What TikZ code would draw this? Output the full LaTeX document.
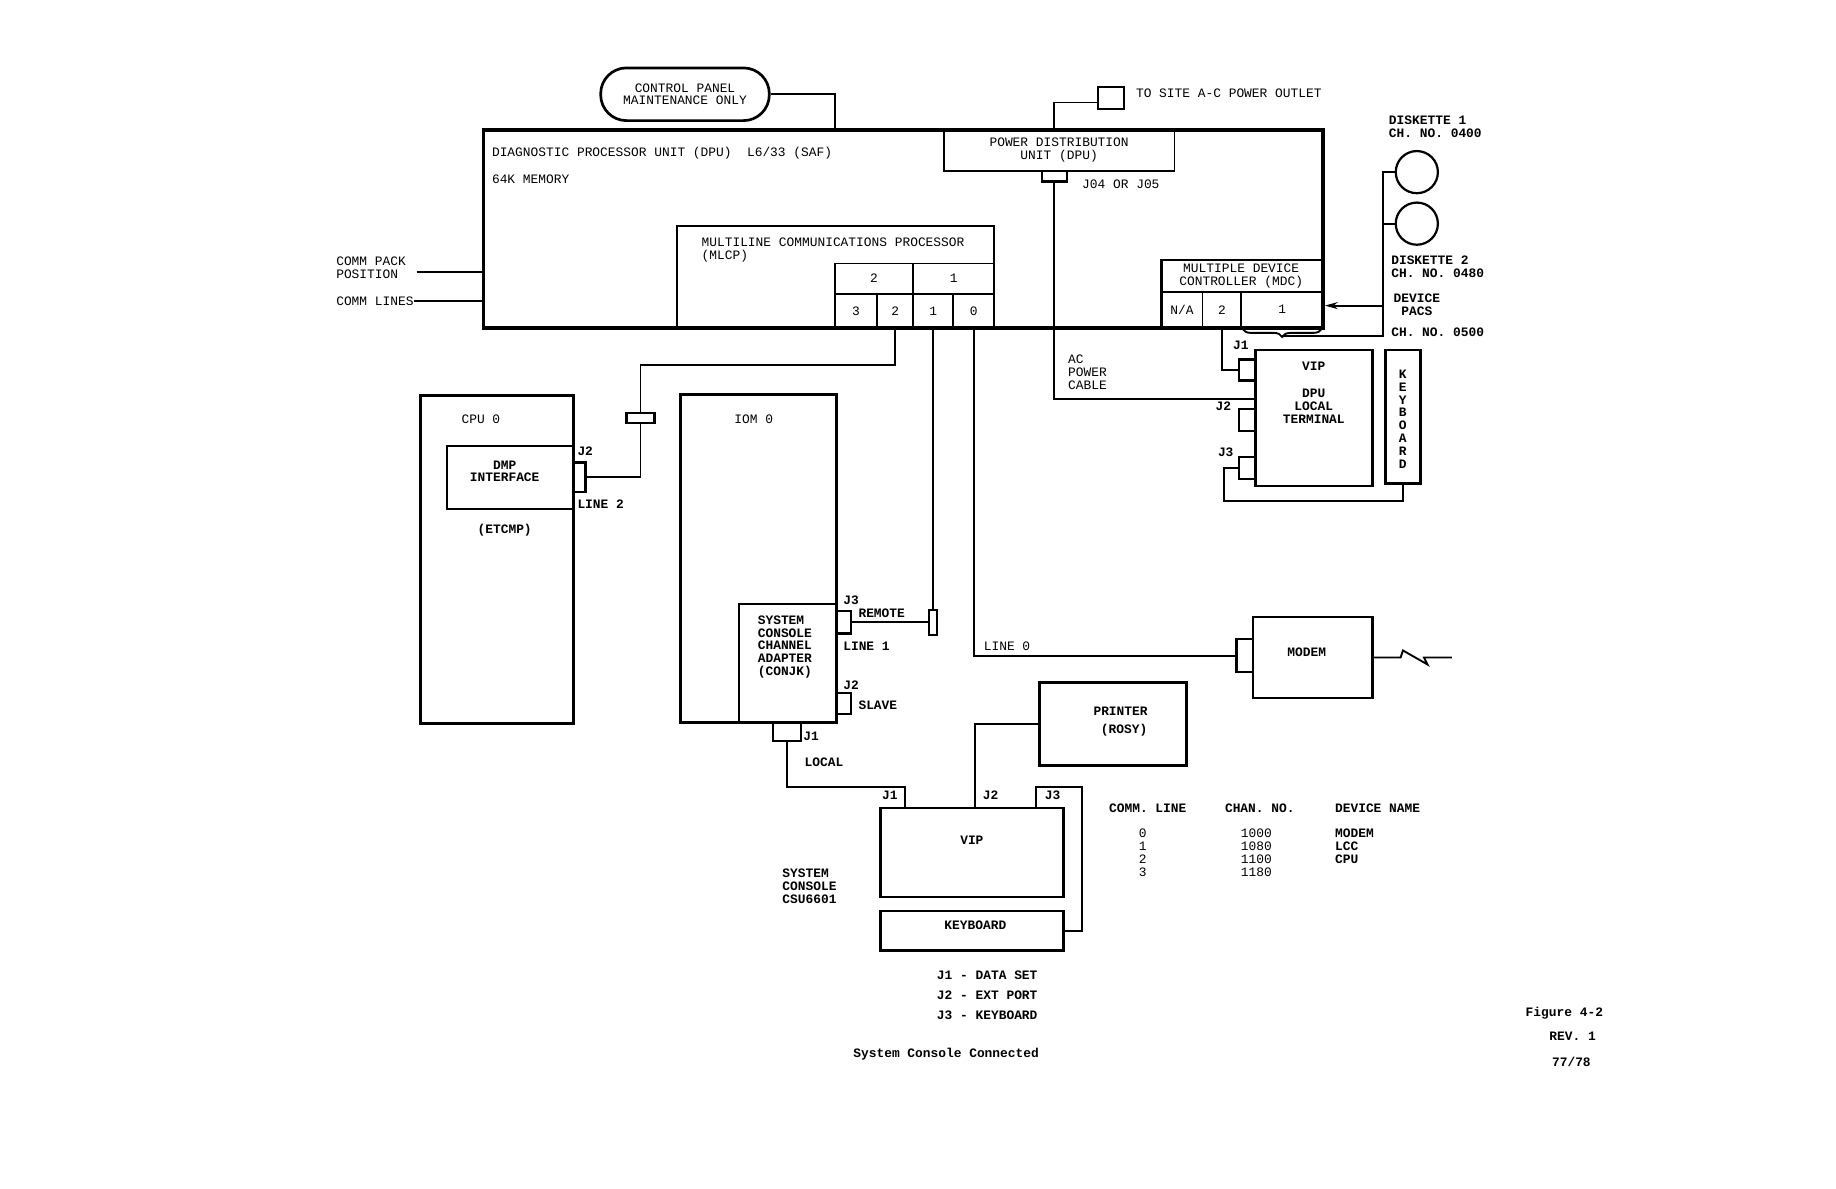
\documentclass[tikz,border=0pt]{standalone}
\usepackage{fontspec}
\setmainfont{Liberation Mono}
\usetikzlibrary{positioning, arrows.meta, decorations.pathreplacing}
\newcommand{\typed}{\fontsize{11}{11}\selectfont}
\tikzset{
  wh/.style 2 args={minimum width=#1pt, minimum height=#2pt},
  frame/.style={draw, line width=3pt, inner sep=0pt},
  unitbox/.style={draw, line width=2.3pt, inner sep=0pt},
  cellbox/.style={draw, line width=1.6pt, inner sep=0pt},
  jack/.style={draw, line width=1.9pt, inner sep=0pt},
  cable/.style={line width=1.6pt},
  tag/.style={font=\typed, inner sep=0pt, anchor=west, align=left},
  boldtag/.style={tag, font=\typed\bfseries},
  ctag/.style={font=\typed, inner sep=0pt, align=center},
  boldctag/.style={ctag, font=\typed\bfseries}
}

\begin{document}
\begin{tikzpicture}[x=1pt, y=-1pt]
  \fill[white] (0,0) rectangle (1568,1015);
  \useasboundingbox (0,0) rectangle (1568,1015);

  % DPU cabinet
  \node[frame, wh={717}{169}] (dpu) at (771.5,195.5) {};
  \node[tag] (dputitle) at (420,131) {DIAGNOSTIC PROCESSOR UNIT (DPU)\ \ L6/33 (SAF)};
  \node[tag] (memory) at (420,153) {64K MEMORY};
  \node[unitbox, wh={144}{45}, rounded corners=22pt, ctag] (panel) at (585,80.5) {CONTROL PANEL\\MAINTENANCE ONLY};
  \coordinate (panelin) at (713,111);
  \draw[cable] (panel.east) -| (panelin);

  \node[cellbox, wh={197}{35}, ctag] (pdu) at (904.5,128.5) {POWER DISTRIBUTION\\UNIT (DPU)};
  \node[jack, wh={22}{19}] (outlet) at (949,83.5) {};
  \node[tag] (outlettxt) at (970,80) {TO SITE A-C POWER OUTLET};
  \node[jack, wh={21}{9}] (pdujack) at (900.5,150.5) {};
  \node[tag] (jacksel) at (924,157) {J04 OR J05};
  \draw[cable] ([yshift=-4pt]outlet.west) -| (pdujack.center |- pdu.north);

  \node[tag] (commpack) at (287,228.5) {COMM PACK\\POSITION};
  \coordinate (packin) at (356,232);
  \draw[cable] (packin) -- (packin -| dpu.west);
  \node[tag] (commlines) at (287,257) {COMM LINES};
  \draw[cable] (commlines.east) -- (commlines.east -| dpu.west);

  % MLCP
  \node[unitbox, wh={271}{87}, line width=2pt] (mlcp) at (713.5,236.5) {};
  \node[tag] (mlcptxt) at (599,213.5) {MULTILINE COMMUNICATIONS PROCESSOR\\(MLCP)};
  \node[cellbox, wh={67}{26}, ctag] (pu2) at (746.5,238) {2};
  \node[cellbox, wh={69}{26}, ctag] (pu1) at (814.5,238) {1};
  \node[cellbox, wh={36}{29}, ctag] (pl3) at (731,265.5) {3};
  \node[cellbox, wh={31}{29}, ctag] (pl2) at (764.5,265.5) {2};
  \node[cellbox, wh={34}{29}, ctag] (pl1) at (797,265.5) {1};
  \node[cellbox, wh={35}{29}, ctag] (pl0) at (831.5,265.5) {0};

  % MDC and diskettes
  \node[unitbox, wh={138}{58}, line width=2pt] (mdc) at (1061,251) {};
  \node[ctag] (mdctxt) at (1060,236) {MULTIPLE DEVICE\\CONTROLLER (MDC)};
  \node[cellbox, wh={35}{31}, ctag] (mna) at (1009.5,264.5) {N/A};
  \node[cellbox, wh={33}{31}, ctag] (m2) at (1043.5,264.5) {2};
  \node[cellbox, wh={70}{31}, ctag] (m1) at (1095,264.5) {1};
  \draw[cable, decorate, decoration={brace, amplitude=7pt}] ([xshift=-2pt]m1.south east) -- ([xshift=2pt]m1.south west);
  \coordinate (padtip) at (1095,287);

  \node[draw, circle, line width=1.9pt, minimum size=36pt, inner sep=0pt] (disk1) at (1210,147) {};
  \node[draw, circle, line width=1.9pt, minimum size=36pt, inner sep=0pt] (disk2) at (1210,191) {};
  \coordinate (bustop) at (1181,147);
  \draw[cable] (disk1.west) -- (bustop) |- (padtip);
  \draw[cable] (disk2.west) -- (disk2.west -| bustop);
  \coordinate (pacs) at (1181,261);
  \draw[cable, -{Stealth[length=11pt, width=6pt]}] (pacs) -- (pacs -| dpu.east);
  \node[boldtag] (disk1txt) at (1186,108) {DISKETTE 1\\CH. NO. 0400};
  \node[boldtag] (disk2txt) at (1188,227.5) {DISKETTE 2\\CH. NO. 0480};
  \node[boldctag] (pacstxt) at (1210,260) {DEVICE\\PACS};
  \node[boldtag] (ch500) at (1188,284) {CH. NO. 0500};

  % DPU local terminal
  \node[unitbox, wh={100}{116}] (vipl) at (1122,357) {};
  \node[boldctag] (viplname) at (1122,313) {VIP};
  \node[boldctag] (vipltxt) at (1122,347) {DPU\\LOCAL\\TERMINAL};
  \node[jack, wh={14}{18}] (lj1) at (1065,316) {};
  \node[jack, wh={14}{19}] (lj2) at (1065,358.5) {};
  \node[jack, wh={14}{19}] (lj3) at (1065,399.5) {};
  \node[boldtag] (lj1txt) at (1053,295) {J1};
  \node[boldtag] (lj2txt) at (1038,347) {J2};
  \node[boldtag] (lj3txt) at (1040,386) {J3};
  \node[unitbox, wh={30}{114}] (kbv) at (1198,356) {};
  \node[boldctag] (kbvtxt) at (1198,358) {K\\E\\Y\\B\\O\\A\\R\\D};
  \draw[cable] (m2.south) |- (lj1.west);
  \coordinate (acin) at (1072,341);
  \draw[cable] (pdujack.south) |- (acin);
  \node[tag] (actxt) at (912,318) {AC\\POWER\\CABLE};
  \coordinate (kbloop) at (1045,428);
  \draw[cable] (lj3.west) -| (kbloop) -| (kbv.south);

  % CPU 0
  \node[unitbox, wh={131}{280}, line width=2.6pt] (cpu) at (424.5,478) {};
  \node[tag] (cputxt) at (394,358) {CPU 0};
  \node[unitbox, wh={108}{54}, line width=1.9pt] (dmp) at (436,408) {};
  \node[boldctag] (dmptxt) at (431,402.5) {DMP\\INTERFACE};
  \node[boldctag] (etcmp) at (431,453) {(ETCMP)};
  \node[jack, wh={10}{25}] (cj2) at (495,407.5) {};
  \node[boldtag] (cj2txt) at (493,385) {J2};
  \node[boldtag] (line2txt) at (493,431) {LINE 2};
  \node[jack, wh={24}{8}] (inlinejack) at (547,357) {};
  \coordinate (line2bend) at (547,312);
  \draw[cable] (cj2.east) -| (inlinejack.south);
  \draw[cable] (inlinejack.north) -- (line2bend) -| (pl2.south);

  % IOM 0
  \node[unitbox, wh={133}{280}, line width=2.6pt] (iom) at (647.5,477) {};
  \node[tag] (iomtxt) at (627,358) {IOM 0};
  \node[unitbox, wh={83}{101}, line width=1.9pt] (scca) at (672.5,566.5) {};
  \node[boldtag] (sccatxt) at (647,552.5) {SYSTEM\\CONSOLE\\CHANNEL\\ADAPTER\\(CONJK)};
  \node[jack, wh={13}{19}] (ij3) at (720.5,531.5) {};
  \node[jack, wh={13}{18}] (ij2) at (720.5,601) {};
  \node[jack, wh={24}{16}] (ij1) at (672,625) {};
  \node[jack, wh={7}{21}] (remotejack) at (797,531.5) {};
  \draw[cable] (ij3.east) -- (remotejack.west);
  \draw[cable] (remotejack.north) -- (remotejack.north |- pl1.south);
  \node[boldtag] (ij3txt) at (720,513) {J3};
  \node[boldtag] (remotetxt) at (733,524) {REMOTE};
  \node[boldtag] (line1txt) at (720,552) {LINE 1};
  \node[boldtag] (ij2txt) at (720,585) {J2};
  \node[boldtag] (slavetxt) at (733,602) {SLAVE};
  \node[boldtag] (ij1txt) at (686,629) {J1};
  \node[boldtag] (localtxt) at (687,651) {LOCAL};

  % line 0 to modem
  \node[jack, wh={14}{28}] (mj) at (1063,560) {};
  \node[unitbox, wh={102}{69}] (modem) at (1121,561.5) {};
  \node[boldctag] (modemtxt) at (1116,557) {MODEM};
  \draw[cable] (pl0.south) |- (mj.west);
  \node[tag] (line0txt) at (840,552) {LINE 0};
  \coordinate (telco) at (1240,561.5);
  \draw[cable] (modem.east) -- ++(23,0) -- ++(2,-6) -- ++(21,12) -- ++(-3,-6) -- (telco);

  % system console
  \node[unitbox, wh={125}{71}] (printer) at (950.5,618.5) {};
  \node[boldctag] (printertxt) at (957,607) {PRINTER};
  \node[boldctag] (rosytxt) at (960,624) {(ROSY)};
  \node[unitbox, wh={156}{76}] (vip) at (830,728) {};
  \node[boldctag] (viptxt) at (830,718) {VIP};
  \node[unitbox, wh={156}{34}] (kbd) at (830,795) {};
  \node[boldctag] (kbdtxt) at (833,790) {KEYBOARD};
  \coordinate (vj1) at (773,690);
  \coordinate (vj2) at (833,690);
  \coordinate (vj3) at (885,690);
  \draw[cable] (ij1.south) |- ([yshift=18pt]vj1) -- (vj1);
  \draw[cable] (printer.west) -| (vj2);
  \draw[cable] (vj3) -- ++(0,-18) -| ([xshift=15pt]kbd.east) -- (kbd.east);
  \node[boldctag] (vj1txt) at (760,679) {J1};
  \node[boldctag] (vj2txt) at (846,679) {J2};
  \node[boldctag] (vj3txt) at (899,679) {J3};
  \node[boldtag] (csutxt) at (668,757) {SYSTEM\\CONSOLE\\CSU6601};
  \node[boldtag] (legend) at (800,850) {J1 - DATA SET\\[6pt]J2 - EXT PORT\\[6pt]J3 - KEYBOARD};
  \node[boldctag] (caption) at (808,900) {System Console Connected};

  % channel table
  \node[boldtag] (colline) at (947,690) {COMM. LINE};
  \node[boldtag] (colchan) at (1046,690) {CHAN. NO.};
  \node[boldtag] (colname) at (1140,690) {DEVICE NAME};
  \node[ctag] (linenos) at (976,728.5) {0\\1\\2\\3};
  \node[ctag] (channos) at (1073,728.5) {1000\\1080\\1100\\1180};
  \node[boldtag] (devnames) at (1140,723) {MODEM\\LCC\\CPU};

  \node[boldctag] (fignum) at (1336,865) {Figure 4-2};
  \node[boldctag] (figrev) at (1343,885) {REV. 1};
  \node[boldctag] (figdate) at (1342,907) {77/78};
\end{tikzpicture}
\end{document}
